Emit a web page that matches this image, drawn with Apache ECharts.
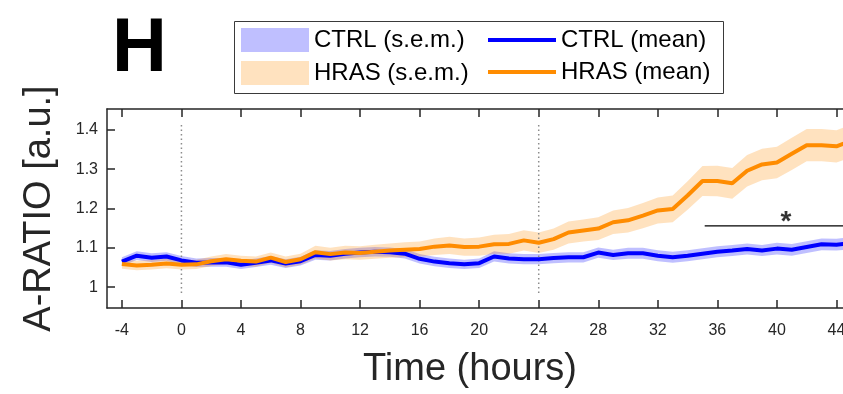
<!DOCTYPE html>
<html>
<head>
<meta charset="utf-8">
<script src="https://cdn.jsdelivr.net/npm/echarts@6/dist/echarts.min.js"></script>
<style>
  html, body { margin: 0; padding: 0; background: #fff; }
  #chart { width: 843px; height: 394px; }
</style>
</head>
<body>
<div id="chart"></div>
<script>
// time points (hours relative to treatment)
const hours = [-4, -3, -2, -1, 0, 1, 2, 3, 4, 5, 6, 7, 8, 9, 10, 11, 12, 13, 14, 15, 16, 17, 18, 19, 20,
  21, 22, 23, 24, 25, 26, 27, 28, 29, 30, 31, 32, 33, 34, 35, 36, 37, 38, 39, 40, 41, 42, 43, 44, 45];

const ctrlMean = [1.065, 1.080, 1.075, 1.078, 1.068, 1.062, 1.063, 1.063, 1.057, 1.062, 1.068, 1.060, 1.066,
  1.082, 1.080, 1.085, 1.088, 1.090, 1.089, 1.085, 1.072, 1.065, 1.061, 1.058, 1.061,
  1.078, 1.073, 1.071, 1.071, 1.074, 1.076, 1.076, 1.088, 1.082, 1.086, 1.086, 1.080, 1.076, 1.080,
  1.085, 1.090, 1.093, 1.097, 1.093, 1.098, 1.095, 1.102, 1.109, 1.108, 1.112];
const ctrlSem = [0.011, 0.011, 0.011, 0.011, 0.011, 0.011, 0.011, 0.011, 0.011, 0.011, 0.011, 0.011, 0.011,
  0.012, 0.012, 0.012, 0.012, 0.012, 0.012, 0.012, 0.012, 0.012, 0.012, 0.012, 0.012,
  0.013, 0.013, 0.013, 0.013, 0.013, 0.013, 0.013, 0.013, 0.013, 0.014, 0.014, 0.014, 0.014, 0.014,
  0.014, 0.014, 0.014, 0.014, 0.014, 0.015, 0.015, 0.015, 0.015, 0.015, 0.015];

const hrasMean = [1.059, 1.055, 1.057, 1.060, 1.057, 1.058, 1.066, 1.071, 1.067, 1.065, 1.075, 1.064, 1.071,
  1.089, 1.084, 1.088, 1.087, 1.090, 1.093, 1.095, 1.097, 1.103, 1.106, 1.102, 1.103,
  1.109, 1.110, 1.119, 1.113, 1.122, 1.139, 1.144, 1.149, 1.165, 1.170, 1.182, 1.195, 1.199, 1.233,
  1.270, 1.270, 1.264, 1.296, 1.312, 1.317, 1.339, 1.361, 1.361, 1.358, 1.372];
const hrasSem = [0.012, 0.012, 0.012, 0.012, 0.012, 0.012, 0.012, 0.013, 0.013, 0.013, 0.013, 0.014, 0.014,
  0.016, 0.016, 0.017, 0.017, 0.018, 0.018, 0.019, 0.019, 0.021, 0.022, 0.022, 0.023,
  0.024, 0.025, 0.026, 0.026, 0.027, 0.028, 0.028, 0.029, 0.030, 0.031, 0.032, 0.033, 0.034, 0.036,
  0.038, 0.039, 0.039, 0.040, 0.040, 0.040, 0.041, 0.041, 0.041, 0.041, 0.042];

// dotted reference lines and significance bar
const markerHours = [0, 24];
const markerSpan = [0.985, 1.42];
const sigHours = [35.15, 45];
const sigLevel = 1.156;
const starHour = 40.6;

const xTicks = [-4, 0, 4, 8, 12, 16, 20, 24, 28, 32, 36, 40, 44];
const yTicks = [1, 1.1, 1.2, 1.3, 1.4];

const FONT = "'Liberation Sans', Arial, sans-serif";
const AX = '#262626';
const BLUE = '#0000ff';
const ORANGE = '#ff8c00';
const BLUE_FILL = 'rgba(0,0,255,0.25)';
const ORANGE_FILL = 'rgba(255,140,0,0.25)';

function band(name, mean, sem, fill) {
  return {
    name: name,
    type: 'custom',
    silent: true,
    clip: true,
    itemStyle: { color: fill },
    data: [[hours[0], mean[0]]],
    renderItem: function (params, api) {
      const upper = hours.map((h, i) => api.coord([h, mean[i] + sem[i]]));
      const lower = hours.map((h, i) => api.coord([h, mean[i] - sem[i]])).reverse();
      return {
        type: 'polygon',
        shape: { points: upper.concat(lower) },
        style: { fill: fill }
      };
    }
  };
}

function meanLine(name, mean, color) {
  return {
    name: name,
    type: 'line',
    data: hours.map((h, i) => [h, mean[i]]),
    showSymbol: false,
    symbol: 'none',
    silent: true,
    itemStyle: { color: color },
    lineStyle: { color: color, width: 4 }
  };
}

const chart = echarts.init(document.getElementById('chart'));

const series = [
  band('CTRL (s.e.m.)', ctrlMean, ctrlSem, BLUE_FILL),
  meanLine('CTRL (mean)', ctrlMean, BLUE),
  band('HRAS (s.e.m.)', hrasMean, hrasSem, ORANGE_FILL),
  meanLine('HRAS (mean)', hrasMean, ORANGE)
];

markerHours.forEach(h => {
  series.unshift({
    type: 'line',
    silent: true,
    symbol: 'none',
    data: markerSpan.map(v => [h, v]),
    lineStyle: { color: '#8c8c8c', width: 1.5, type: [1.5, 3] }
  });
});

series.push({
  type: 'line',
  silent: true,
  symbol: 'none',
  data: sigHours.map(h => [h, sigLevel]),
  lineStyle: { color: '#000', width: 1.2 }
});
series.push({
  type: 'scatter',
  silent: true,
  symbolSize: 0,
  data: [[starHour, sigLevel]],
  label: {
    show: true, position: 'inside', offset: [0, -4],
    formatter: '*', fontFamily: FONT, fontSize: 28, fontWeight: 'bold', color: '#000'
  }
});

chart.setOption({
  animation: false,
  textStyle: { fontFamily: FONT },
  grid: { left: 107, top: 109, right: 0, bottom: 86, outerBoundsMode: 'none', containLabel: false },
  graphic: [
    {
      type: 'text', left: 112, top: 12,
      style: { text: 'H', font: 'bold 76px ' + FONT, fill: '#000' }
    },
    {
      type: 'rect', shape: { x: 234.5, y: 21.5, width: 489, height: 72 },
      style: { fill: '#fff', stroke: '#3a3a3a', lineWidth: 1 }, z: 5
    }
  ],
  legend: [
    {
      orient: 'vertical', left: 241, top: 28, padding: 0,
      itemWidth: 68, itemHeight: 24, itemGap: 9,
      z: 10, selectedMode: false,
      textStyle: { fontSize: 24, color: '#000', lineHeight: 24 },
      data: [
        { name: 'CTRL (s.e.m.)', icon: 'rect', itemStyle: { color: BLUE_FILL } },
        { name: 'HRAS (s.e.m.)', icon: 'rect', itemStyle: { color: ORANGE_FILL } }
      ]
    },
    {
      orient: 'vertical', left: 488, top: 28, padding: 0,
      itemWidth: 68, itemHeight: 4, itemGap: 8,
      z: 10, selectedMode: false,
      textStyle: { fontSize: 24, color: '#000', lineHeight: 24 },
      data: [
        { name: 'CTRL (mean)', icon: 'rect', itemStyle: { color: BLUE } },
        { name: 'HRAS (mean)', icon: 'rect', itemStyle: { color: ORANGE } }
      ]
    }
  ],
  xAxis: [
    {
      type: 'value', min: -5, max: 44.44,
      name: 'Time (hours)', nameLocation: 'middle', nameGap: 43,
      nameTextStyle: { fontSize: 38, color: AX, padding: [0, 10, 0, 0] },
      axisLine: { onZero: false, lineStyle: { color: AX, width: 1.5 } },
      axisTick: { inside: true, length: 8, customValues: xTicks, lineStyle: { color: AX, width: 1.5 } },
      axisLabel: { customValues: xTicks, fontSize: 16, color: AX, margin: 15 },
      splitLine: { show: false }
    },
    {
      type: 'value', min: -5, max: 44.44, position: 'top',
      axisLine: { onZero: false, lineStyle: { color: AX, width: 1.5 } },
      axisTick: { inside: true, length: 8, customValues: xTicks, lineStyle: { color: AX, width: 1.5 } },
      axisLabel: { show: false },
      splitLine: { show: false }
    }
  ],
  yAxis: [
    {
      type: 'value', min: 0.947, max: 1.453,
      name: 'A-RATIO [a.u.]', nameLocation: 'middle', nameGap: 48,
      nameTextStyle: { fontSize: 38, color: AX },
      axisLine: { show: true, onZero: false, lineStyle: { color: AX, width: 1.5 } },
      axisTick: { show: true, inside: true, length: 8, customValues: yTicks, lineStyle: { color: AX, width: 1.5 } },
      axisLabel: { customValues: yTicks, fontSize: 16, color: AX, margin: 9 },
      splitLine: { show: false }
    }
  ],
  series: series
});
</script>
</body>
</html>
